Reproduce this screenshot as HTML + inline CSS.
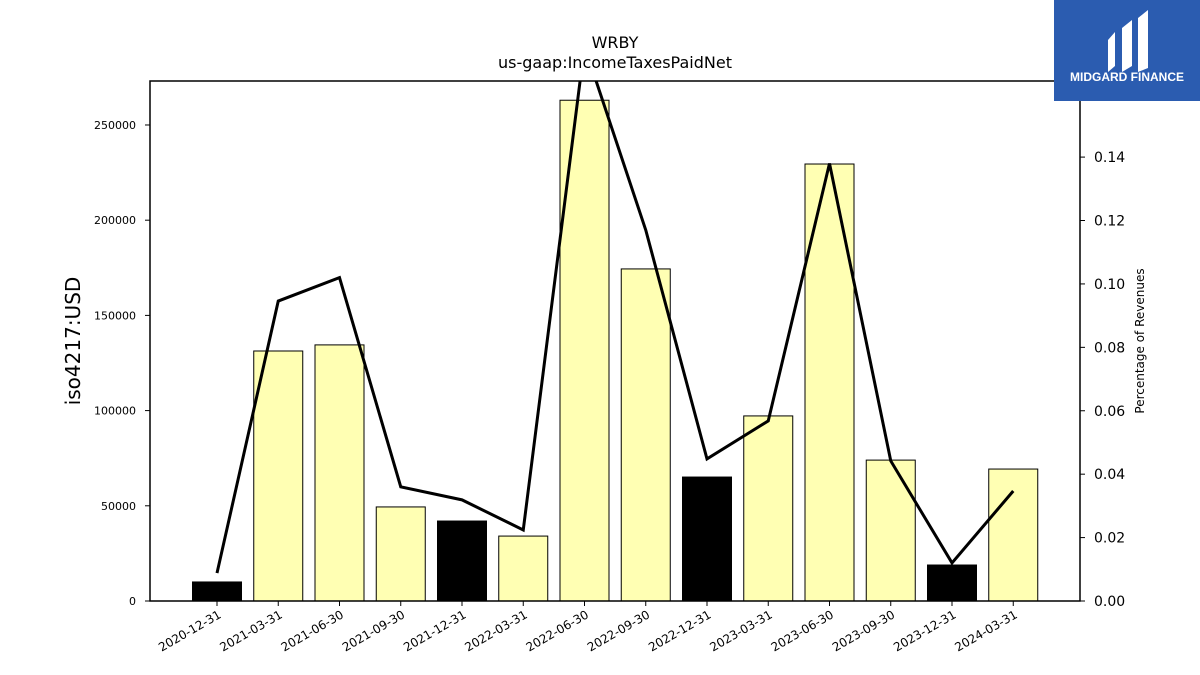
<!DOCTYPE html>
<html><head><meta charset="utf-8"><style>
body{margin:0;background:#fff;}
svg{display:block;font-family:"DejaVu Sans","Liberation Sans",sans-serif;}
</style></head><body>
<svg id="chart" width="1200" height="675" xmlns="http://www.w3.org/2000/svg">
<text x="615" y="48" font-size="16" text-anchor="middle">WRBY</text>
<text x="615" y="68" font-size="16" text-anchor="middle">us-gaap:IncomeTaxesPaidNet</text>
<text transform="translate(80,341) rotate(-90)" font-size="20" text-anchor="middle">iso4217:USD</text>
<text transform="translate(1144,341) rotate(-90)" font-size="12" text-anchor="middle">Percentage of Revenues</text>
<g id="bars"></g><g id="xticks"></g><g id="lticks"></g><g id="rticks"></g>
<defs><clipPath id="pc"><rect x="150" y="81" width="930" height="520"/></clipPath></defs>
<path id="line" fill="none" stroke="#000" stroke-width="3" clip-path="url(#pc)"/>
<rect x="150" y="81" width="930" height="520" fill="none" stroke="#000" stroke-width="1.5"/>
<g>
<rect x="1054" y="0" width="146" height="101" fill="#2b5cb0"/>
<path d="M1108 40 L1115 32 L1115 66 L1108 72 Z M1122 28 L1132 20 L1132 66 L1122 72 Z M1138 18 L1148 10 L1148 68 L1138 72 Z" fill="#fff"/>
<text x="1127" y="81" font-size="12" font-weight="bold" fill="#fff" text-anchor="middle" font-family="Liberation Sans, sans-serif">MIDGARD FINANCE</text>
</g>
</svg>
<script>
const categories=["2020-12-31","2021-03-31","2021-06-30","2021-09-30","2021-12-31","2022-03-31","2022-06-30","2022-09-30","2022-12-31","2023-03-31","2023-06-30","2023-09-30","2023-12-31","2024-03-31"];
const values=[10000,131300,134500,49400,42000,34100,263000,174400,65100,97200,229500,74000,18900,69300];
const negativeFlags=[1,0,0,0,1,0,0,0,1,0,0,0,1,0];
const percents=[0.0088,0.0946,0.102,0.036,0.0319,0.0224,0.175,0.117,0.0448,0.0568,0.138,0.0442,0.012,0.0347];
const leftTicks=[0,50000,100000,150000,200000,250000];
const rightTicks=[0,0.02,0.04,0.06,0.08,0.10,0.12,0.14];
const NS="http://www.w3.org/2000/svg";
const X0=150,X1=1080,Y0=601,Y1=81,LMAX=273100,RMAX=0.164;
const x=i=>217+i*61.25;
const yl=v=>Y0-(v/LMAX)*(Y0-Y1);
const yr=v=>Y0-(v/RMAX)*(Y0-Y1);
function mk(t,a,p){const e=document.createElementNS(NS,t);for(const k in a)e.setAttribute(k,a[k]);p.appendChild(e);return e;}
const bars=document.getElementById('bars');
values.forEach((v,i)=>{const r=mk('rect',{x:x(i)-24.5,y:yl(v),width:49,height:Y0-yl(v),fill:negativeFlags[i]?'#000':'#ffffb3',stroke:'#000','stroke-width':1},bars);

});
const xt=document.getElementById('xticks');
categories.forEach((c,i)=>{mk('line',{x1:x(i),x2:x(i),y1:Y0,y2:Y0+5,stroke:'#000'},xt);
const t=mk('text',{transform:`translate(${x(i)+5},${Y0+16}) rotate(-30)`,'font-size':12,'text-anchor':'end'},xt);t.textContent=c;

});
const lt=document.getElementById('lticks');
leftTicks.forEach(v=>{mk('line',{x1:X0-5,x2:X0,y1:yl(v),y2:yl(v),stroke:'#000'},lt);
const t=mk('text',{x:X0-14,y:yl(v)+4,'font-size':11,'text-anchor':'end'},lt);t.textContent=String(v);

});
const rt=document.getElementById('rticks');
rightTicks.forEach(v=>{mk('line',{x1:X1,x2:X1+5,y1:yr(v),y2:yr(v),stroke:'#000'},rt);
const t=mk('text',{x:X1+14,y:yr(v)+5,'font-size':14},rt);t.textContent=v.toFixed(2);

});
document.getElementById('line').setAttribute('d',percents.map((p,i)=>(i?'L':'M')+x(i)+' '+yr(p)).join(' '));
</script>
</body></html>
